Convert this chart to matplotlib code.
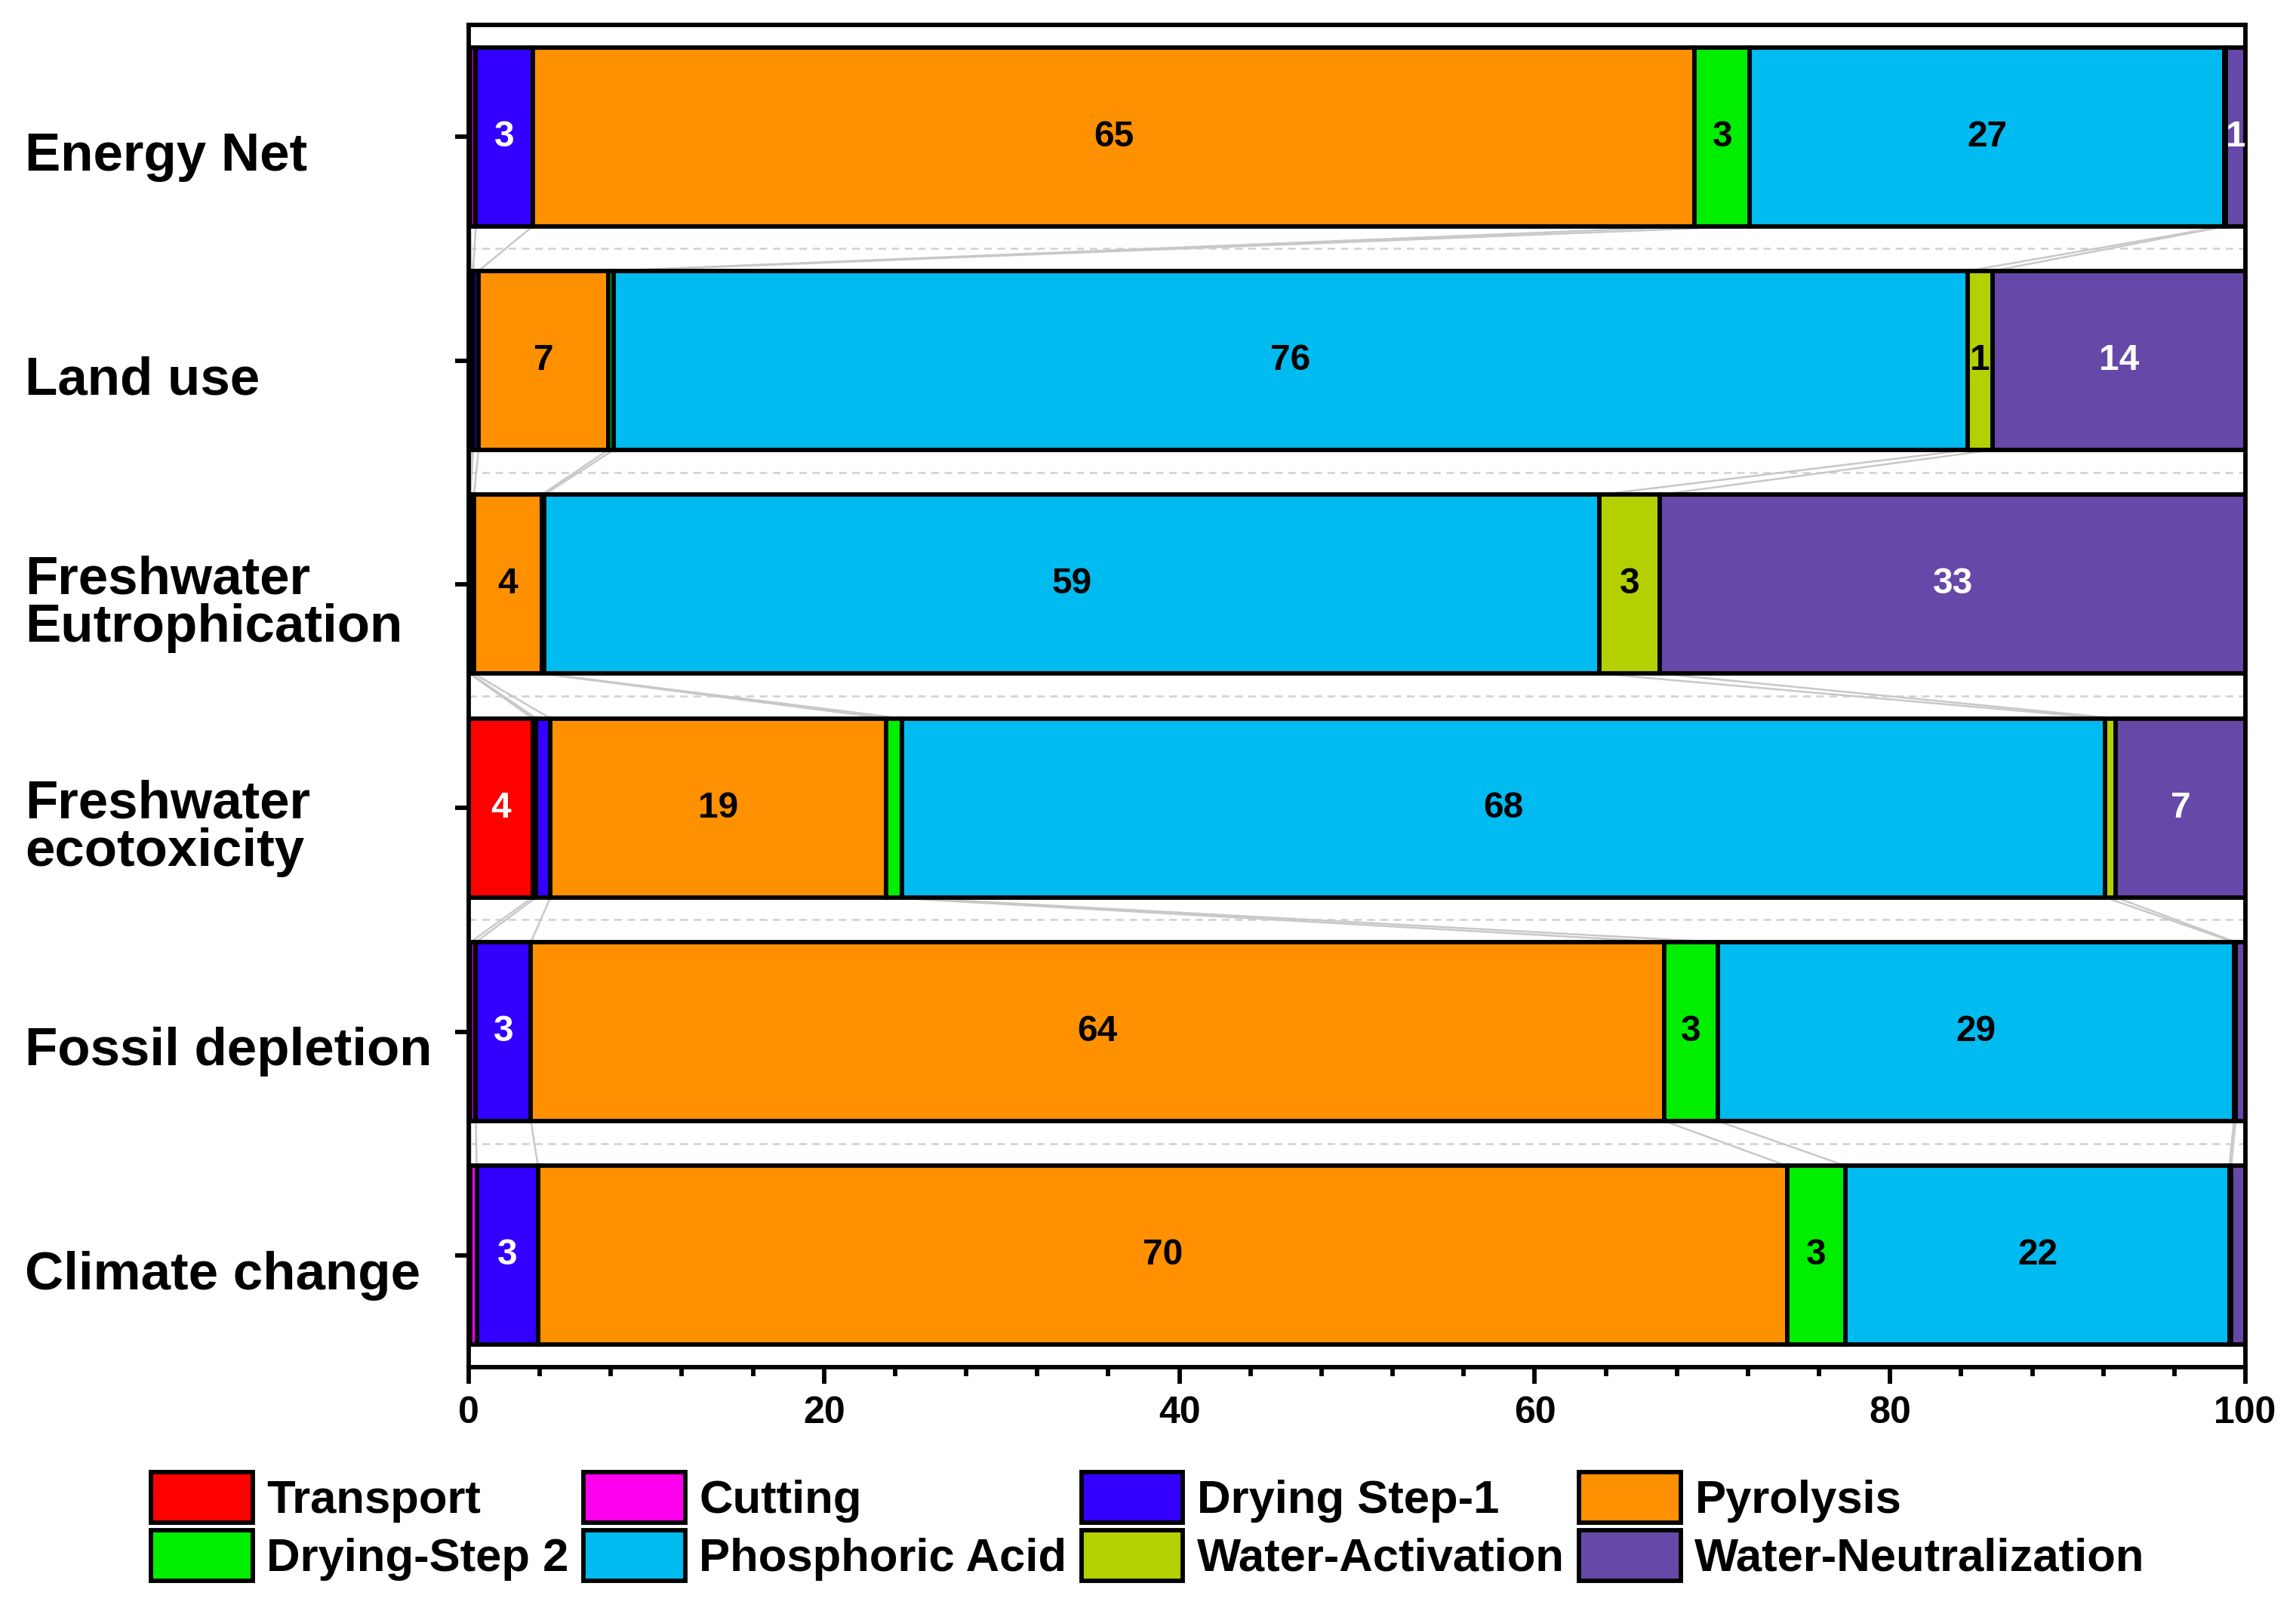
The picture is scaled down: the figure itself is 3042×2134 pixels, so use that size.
import matplotlib
matplotlib.use("Agg")
import matplotlib.pyplot as plt
import matplotlib.transforms as mtransforms
import numpy as np

# impact categories, top to bottom
categories = ["Energy Net", "Land use", "Freshwater\nEutrophication",
              "Freshwater\necotoxicity", "Fossil depletion", "Climate change"]

# contribution (%) of each process step
transport = [0.1, 0.15, 0.05, 3.6, 0.1, 0.1]
cutting = [0.3, 0.1, 0.05, 0.2, 0.3, 0.35]
drying1 = [3.2, 0.3, 0.2, 0.8, 3.1, 3.45]
pyrolysis = [65.4, 7.3, 3.8, 18.9, 63.8, 70.3]
drying2 = [3.1, 0.3, 0.15, 0.9, 3.0, 3.3]
phosphoric = [26.7, 76.2, 59.4, 67.7, 29.05, 21.6]
water_act = [0.1, 1.4, 3.4, 0.6, 0.1, 0.1]
water_neu = [1.1, 14.25, 32.95, 7.3, 0.55, 0.8]

series_names = ["Transport", "Cutting", "Drying Step-1", "Pyrolysis",
                "Drying-Step 2", "Phosphoric Acid", "Water-Activation",
                "Water-Neutralization"]
series = [transport, cutting, drying1, pyrolysis, drying2, phosphoric,
          water_act, water_neu]
colors = ["#FF0000", "#FF00EE", "#3300FF", "#FF9000",
          "#00EE00", "#00BBF0", "#B4D000", "#6648A8"]
text_colors = ["white", "black", "white", "black",
               "black", "black", "black", "white"]

plt.rcParams["font.family"] = ["Liberation Sans", "DejaVu Sans"]
plt.rcParams["font.weight"] = "bold"

fig = plt.figure(figsize=(3042 / 300, 2134 / 300), dpi=300)
ax = fig.add_axes([621 / 3042, 1 - 1811 / 2134,
                   (2975 - 621) / 3042, (1811 - 33) / 2134])

y = np.arange(len(categories))
bar_h = 0.8
data = np.array(series)
cum = np.vstack([np.zeros(len(categories)), np.cumsum(data, axis=0)])

handles = []
for i, (name, vals) in enumerate(zip(series_names, series)):
    b = ax.barh(y, vals, left=cum[i], height=bar_h, color=colors[i],
                edgecolor="black", linewidth=1.4, label=name, zorder=3)
    handles.append(b)
    for j, v in enumerate(vals):
        if v >= 1:
            ax.text(cum[i][j] + v / 2, y[j], f"{v:.0f}", ha="center",
                    va="center", fontsize=11.5, fontweight="bold",
                    color=text_colors[i], zorder=5)

# grey connectors between matching boundaries of neighbouring bars
for j in range(len(categories) - 1):
    for k in range(1, cum.shape[0]):
        ax.plot([cum[k][j], cum[k][j + 1]],
                [y[j] + bar_h / 2, y[j + 1] - bar_h / 2],
                color="#c8c8c8", lw=0.6, zorder=2)

# dashed separators between bars
for j in range(len(categories) - 1):
    ax.axhline(y[j] + 0.5, color="#d0d0d0", lw=0.6, ls=(0, (4, 3)), zorder=1)

ax.set_xlim(0, 100)
ax.set_ylim(len(categories) - 0.5, -0.5)
ax.set_xticks(np.arange(0, 101, 20))
ax.set_xticks(np.arange(0, 101, 4), minor=True)
ax.set_yticks(y)
ax.set_yticklabels([])
ax.tick_params(axis="x", which="major", length=5.2, width=1.4, pad=4,
               labelsize=12)
ax.tick_params(axis="x", which="minor", length=2.9, width=1.4)
ax.tick_params(axis="y", length=4.4, width=1.4)
for lbl in ax.get_xticklabels():
    lbl.set_fontweight("bold")
for sp in ax.spines.values():
    sp.set_linewidth(1.4)

trans = mtransforms.blended_transform_factory(fig.transFigure, ax.transData)
for j, cat in enumerate(categories):
    ax.text(33 / 3042, y[j] + 0.09, cat, transform=trans, ha="left",
            va="center", fontsize=17, fontweight="bold", linespacing=0.95)

# legend filled row by row (matplotlib fills columns)
order = [0, 4, 1, 5, 2, 6, 3, 7]
fig.legend([handles[i] for i in order], [series_names[i] for i in order],
           loc="upper center", bbox_to_anchor=(0.5, 1 - 1950 / 2134),
           ncol=4, frameon=False, fontsize=14.8, handlelength=2.18,
           handleheight=1.3, handletextpad=0.3, columnspacing=0.32,
           labelspacing=0.15, borderpad=0, borderaxespad=0)

fig.savefig("out.png", dpi=300)
